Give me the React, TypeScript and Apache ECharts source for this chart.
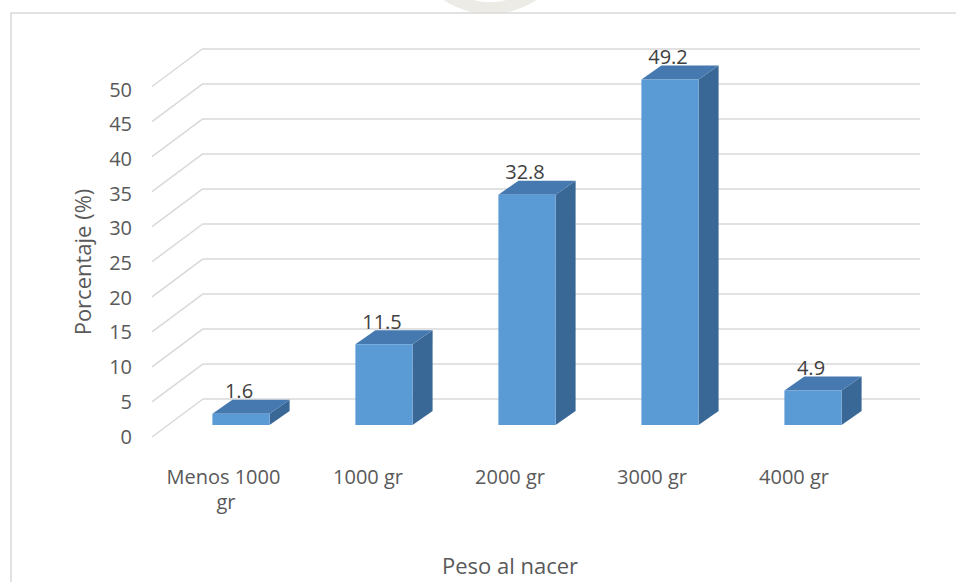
import React, { useEffect, useRef } from "react";
import * as echarts from "echarts";

// Birth-weight distribution (percent of newborns)
const categories = ["Menos 1000 gr", "1000 gr", "2000 gr", "3000 gr", "4000 gr"];
const percentages = [1.6, 11.5, 32.8, 49.2, 4.9];
const yTicks = [0, 5, 10, 15, 20, 25, 30, 35, 40, 45, 50];

const FONT = "'Open Sans', 'Noto Sans', sans-serif";
const TEXT = "#595959";
const GRID_LINE = "#d9d9d9";

// Prism look for the columns
const FRONT = "#5b9bd5";
const TOP = "#4679b0";
const SIDE = "#3a6896";
const DEPTH_X = 20;
const DEPTH_Y = -14;

// Side-wall slant (from back wall to front edge)
const WALL_DX = -51;
const WALL_DY = 38;

export default function App() {
  const ref = useRef<HTMLDivElement>(null);

  useEffect(() => {
    if (!ref.current) return;
    const chart = echarts.init(ref.current, undefined, { renderer: "svg" });

    const option: echarts.EChartsOption = {
      animation: false,
      backgroundColor: "#ffffff",
      textStyle: { fontFamily: FONT },
      graphic: [
        {
          // faint page seal above the chart frame
          type: "ring",
          shape: { cx: 490, cy: -70, r: 84, r0: 72 },
          style: { fill: "#ecebe5" },
          silent: true,
          z: -20,
        },
        {
          type: "rect",
          shape: { x: 11, y: 13, width: 960, height: 600 },
          style: { fill: "#ffffff", stroke: GRID_LINE, lineWidth: 1.5 },
          silent: true,
          z: -10,
        },
        {
          type: "text",
          x: 82,
          y: 262,
          rotation: Math.PI / 2,
          style: {
            text: "Porcentaje (%)",
            fill: TEXT,
            font: `22px ${FONT}`,
            align: "center",
            verticalAlign: "middle",
          },
        },
        {
          type: "text",
          x: 510,
          y: 565,
          style: {
            text: "Peso al nacer",
            fill: TEXT,
            font: `22px ${FONT}`,
            align: "center",
            verticalAlign: "middle",
          },
        },
      ],
      grid: [
        // back wall
        { left: 203, right: 36, top: 48.5, bottom: 183 },
        // front edge carrying the axis labels
        { left: 155, right: 91, top: 89, bottom: 146 },
        // plane of the column fronts
        { left: 169.5, right: 71.5, top: 74, bottom: 157 },
      ],
      xAxis: [
        { gridIndex: 0, type: "value", min: 0, max: 1, show: false },
        {
          gridIndex: 1,
          type: "category",
          data: categories,
          axisLine: { show: false },
          axisTick: { show: false },
          axisLabel: {
            color: TEXT,
            fontSize: 20,
            fontFamily: FONT,
            lineHeight: 25,
            margin: 28,
            interval: 0,
            width: 128,
            overflow: "break",
          },
        },
        { gridIndex: 2, type: "category", data: categories, show: false },
      ],
      yAxis: [
        {
          gridIndex: 0,
          type: "value",
          min: 0,
          max: 50,
          interval: 5,
          axisLine: { show: false },
          axisTick: { show: false },
          axisLabel: { show: false },
          splitLine: { lineStyle: { color: GRID_LINE, width: 1.5 } },
        },
        {
          gridIndex: 1,
          type: "value",
          min: 0,
          max: 50,
          interval: 5,
          axisLine: { show: false },
          axisTick: { show: false },
          splitLine: { show: false },
          axisLabel: { color: TEXT, fontSize: 20, fontFamily: FONT, margin: 23 },
        },
        { gridIndex: 2, type: "value", min: 0, max: 50, show: false },
      ],
      series: [
        {
          // slanted side-wall lines joining each back gridline to the front edge
          type: "custom",
          xAxisIndex: 0,
          yAxisIndex: 0,
          silent: true,
          z: 1,
          data: yTicks.map((v) => [0, v]),
          renderItem: (_params: any, api: any) => {
            const p = api.coord([0, api.value(1)]);
            return {
              type: "line",
              shape: { x1: p[0], y1: p[1], x2: p[0] + WALL_DX, y2: p[1] + WALL_DY },
              style: { stroke: GRID_LINE, lineWidth: 1.5 },
            };
          },
        },
        {
          type: "custom",
          xAxisIndex: 2,
          yAxisIndex: 2,
          z: 5,
          data: percentages.map((v, i) => [i, v]),
          renderItem: (_params: any, api: any) => {
            const i = api.value(0);
            const v = api.value(1);
            const top = api.coord([i, v]);
            const base = api.coord([i, 0]);
            const w = api.size([1, 0])[0] * 0.4;
            const x0 = top[0] - w / 2;
            const x1 = x0 + w;
            const yt = top[1];
            const yb = base[1];
            return {
              type: "group",
              children: [
                {
                  type: "polygon",
                  shape: {
                    points: [
                      [x1, yt],
                      [x1 + DEPTH_X, yt + DEPTH_Y],
                      [x1 + DEPTH_X, yb + DEPTH_Y],
                      [x1, yb],
                    ],
                  },
                  style: { fill: SIDE },
                },
                {
                  type: "polygon",
                  shape: {
                    points: [
                      [x0, yt],
                      [x1, yt],
                      [x1 + DEPTH_X, yt + DEPTH_Y],
                      [x0 + DEPTH_X, yt + DEPTH_Y],
                    ],
                  },
                  style: { fill: TOP },
                },
                {
                  type: "rect",
                  shape: { x: x0, y: yt, width: w, height: yb - yt },
                  style: { fill: FRONT },
                },
                {
                  type: "text",
                  x: top[0] - 2,
                  y: yt - 23,
                  style: {
                    text: String(v),
                    fill: "#404040",
                    font: `20px ${FONT}`,
                    align: "center",
                    verticalAlign: "middle",
                  },
                },
              ],
            };
          },
        },
      ],
    };

    chart.setOption(option);
    return () => chart.dispose();
  }, []);

  return (
    <div
      ref={ref}
      style={{ position: "fixed", left: 0, top: 0, width: 956, height: 582 }}
    />
  );
}
